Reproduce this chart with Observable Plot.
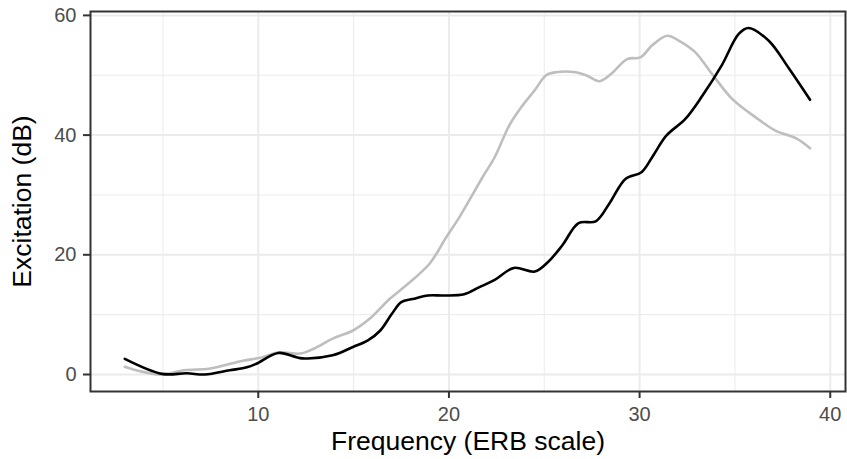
<!DOCTYPE html>
<html><head><meta charset="utf-8">
<script src="https://cdn.jsdelivr.net/npm/d3@7"></script>
<script src="https://cdn.jsdelivr.net/npm/@observablehq/plot@0.6"></script>
<style>body{margin:0;background:#fff;} svg{display:block;}</style>
</head><body><div id="chart"></div>
<script>
const blackX = [3.0,4.95,6.25,7.2,8.5,9.4,9.9,11.05,12.3,13.9,14.97,15.75,16.4,17.0,17.5,18.1,18.9,19.7,20.8,21.6,22.4,23.4,24.5,25.2,25.95,26.8,27.7,28.4,29.27,30.1,30.66,31.4,32.4,33.3,34.3,35.2,35.7,36.76,37.8,38.94];
const blackY = [2.6,0.1,0.2,0.0,0.7,1.2,1.8,3.6,2.7,3.2,4.6,5.7,7.35,10.1,12.1,12.6,13.2,13.2,13.4,14.6,15.8,17.8,17.2,18.8,21.6,25.3,25.6,28.5,32.7,33.8,36.3,39.9,42.7,46.6,51.6,56.9,57.9,55.8,51.3,45.9];
const greyX = [3.0,3.8,4.95,6.1,7.4,8.17,9.2,10.1,11.1,12.2,12.9,13.9,14.97,15.84,16.9,17.76,18.98,19.85,20.55,21.77,22.4,23.16,23.8,24.5,25.1,25.6,26.65,27.2,27.9,28.5,29.35,30.05,30.66,31.44,32.05,32.9,33.8,34.84,36.07,37.1,38.24,38.94];
const greyY = [1.3,0.55,0.0,0.7,0.95,1.5,2.3,2.8,3.7,3.5,4.3,6.0,7.35,9.3,12.65,14.9,18.5,22.9,26.3,33.0,36.3,41.6,44.7,47.5,50.0,50.5,50.5,50.0,49.0,50.2,52.7,53.0,55.0,56.6,55.8,53.9,50.2,46.1,43.0,40.8,39.4,37.8];
const xTicks = [10,20,30,40];
const yTicks = [0,20,40,60];
const xMinor = [5,15,25,35];
const yMinor = [10,30,50];
const xTitle = "Frequency (ERB scale)";
const yTitle = "Excitation (dB)";

const black = blackX.map((x,i)=>({x, y: blackY[i]}));
const grey = greyX.map((x,i)=>({x, y: greyY[i]}));

const chart = Plot.plot({
  width: 847, height: 459,
  marginLeft: 90, marginRight: 2, marginTop: 11, marginBottom: 68,
  x: {domain: [1.2, 40.8]},
  y: {domain: [-2.84, 60.65]},
  style: {fontFamily: "Liberation Sans, Arial, sans-serif", fontSize: "20px", background: "#fff"},
  marks: [
    Plot.ruleX(xMinor, {stroke: "#ebebeb", strokeWidth: 1}),
    Plot.ruleY(yMinor, {stroke: "#ebebeb", strokeWidth: 1}),
    Plot.ruleX(xTicks, {stroke: "#ebebeb", strokeWidth: 2}),
    Plot.ruleY(yTicks, {stroke: "#ebebeb", strokeWidth: 2}),
    Plot.line(grey, {x: "x", y: "y", stroke: "#bebebe", strokeWidth: 2.6, curve: "catmull-rom"}),
    Plot.line(black, {x: "x", y: "y", stroke: "#000", strokeWidth: 2.6, curve: "catmull-rom"}),
    Plot.frame({stroke: "#333", strokeWidth: 2}),
    Plot.axisX(xTicks, {tickSize: 7, tickFormat: () => "", stroke: "#333", label: null, strokeWidth: 2}),
    Plot.axisY(yTicks, {tickSize: 7, tickFormat: () => "", stroke: "#333", label: null, strokeWidth: 2}),
    Plot.text(xTicks, {x: d => d, frameAnchor: "bottom", text: d => String(d), dy: 15, lineAnchor: "top", fontSize: 20, fill: "#4d4d4d"}),
    Plot.text(yTicks, {y: d => d, frameAnchor: "left", text: d => String(d), dx: -14, textAnchor: "end", lineAnchor: "middle", fontSize: 20, fill: "#4d4d4d"}),
    Plot.text([xTitle], {frameAnchor: "bottom", dy: 50, text: d => d, fontSize: 26.5, fill: "#000", textAnchor: "middle", lineAnchor: "middle"}),
    Plot.text([yTitle], {frameAnchor: "left", dx: -68, text: d => d, fontSize: 26.5, fill: "#000", rotate: -90, textAnchor: "middle", lineAnchor: "middle"})
  ]
});
document.getElementById("chart").appendChild(chart);
</script></body></html>
